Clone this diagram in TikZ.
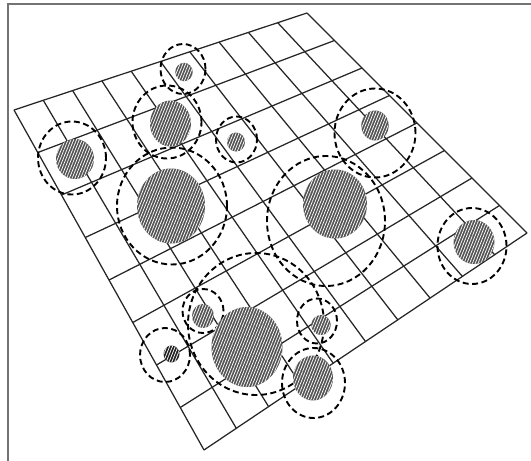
\documentclass[tikz,border=0pt]{standalone}
\usepackage{tikz}
\usetikzlibrary{calc, patterns.meta}
\tikzset{
    frame/.style={
        draw=black!55,
        line width=1.4pt
    },
    gridline/.style={
        draw=black!85,
        line width=1.25pt
    },
    zone/.style={
        draw=black,
        dash pattern=on 6pt off 3.5pt,
        line width=1.9pt
    },
    core/.style={
        preaction={fill=#1},
        pattern={Lines[angle=68, distance=2.6pt, line width=0.75pt]},
        pattern color=white
    },
    core/.default=black!68
}

\begin{document}
\begin{tikzpicture}[x=1pt, y=-1pt]

    \useasboundingbox (0,0) rectangle (531,461);
    \draw[frame] (8,475) -- (8,4) -- (545,4);

    \coordinate (tl) at (14,110);
    \coordinate (tr) at (307,13);
    \coordinate (br) at (527,233);
    \coordinate (bl) at (204,450);

    \foreach \i in {0,...,10}
        \draw[gridline] ($(tl)!\i/10!(tr)$) -- ($(bl)!\i/10!(br)$);
    \foreach \j in {0,...,8}
        \draw[gridline] ($(tl)!\j/8!(bl)$) -- ($(tr)!\j/8!(br)$);

    \foreach \cx/\cy/\rx/\ry in {183/69/22.5/25, 167/122/34.5/36.5, 236.5/139.5/20.5/23,
            72/158/34/36.5, 172/206/55/58.5, 326/221/59/65, 375/133/40.5/44.5,
            472/246/34.5/38, 256/324/68/71, 165/355/25/27, 203/311/20.5/22,
            317/321/20/22.5, 313.5/383/31.5/35}
        \draw[zone] (\cx,\cy) ellipse [x radius=\rx pt, y radius=\ry pt];

    \foreach \cx/\cy/\rx/\ry in {184/72/8.7/9.2, 170.5/123.5/20.5/23, 236/142/9/9.5,
            75/159/19/20, 171/206/34/37.5, 335/204/32/34.5, 375/125.5/13.7/15,
            474/242/20.5/22, 247/347/35.5/40, 203/316/11/12, 321/325/9.7/10,
            313/378/20/22.5}
        \path[core] (\cx,\cy) ellipse [x radius=\rx pt, y radius=\ry pt];
    \path[core=black!88] (171.5,354) ellipse [x radius=8pt, y radius=8.5pt];

\end{tikzpicture}
\end{document}
